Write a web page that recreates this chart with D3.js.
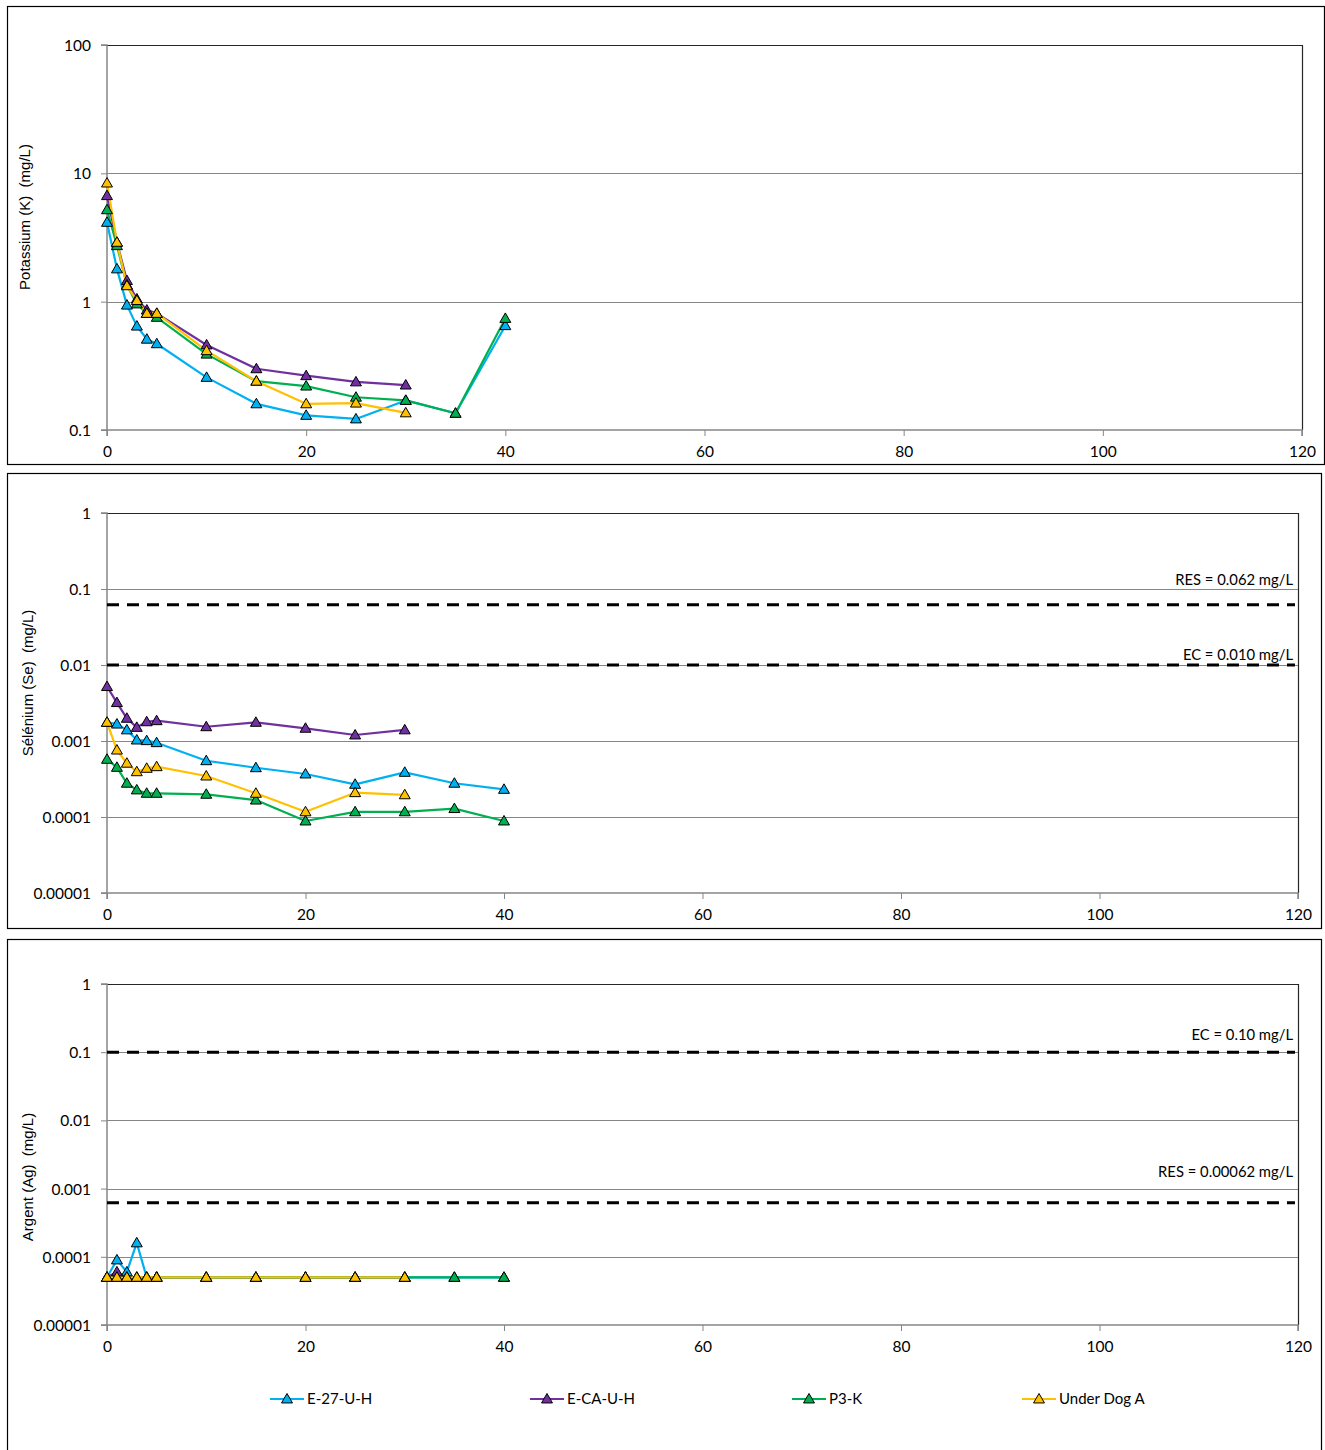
<!DOCTYPE html>
<html><head><meta charset="utf-8">
<script src="https://cdn.jsdelivr.net/npm/d3@7"></script>
<style>
body{margin:0;background:#fff;}
svg{display:block;}
.tick text{font-family:Lato, "Open Sans", sans-serif;font-size:15.5px;fill:#000;}
</style></head>
<body>
<svg id="chart" width="1325" height="1450"></svg>
<script>
// ---------- DATA ----------
const seriesNames = ["E-27-U-H", "E-CA-U-H", "P3-K", "Under Dog A"];
const seriesColors = ["#00B0F0", "#7030A0", "#00B050", "#FFC000"];
const days = [0, 1, 2, 3, 4, 5, 10, 15, 20, 25, 30, 35, 40];
const xTickValues = [0, 20, 40, 60, 80, 100, 120];
const xTickLabels = ["0", "20", "40", "60", "80", "100", "120"];

// Potassium (K) mg/L
const potassiumE27 = [4.15, 1.8, 0.94, 0.645, 0.51, 0.47, 0.257, 0.16, 0.13, 0.122, 0.17, 0.135, 0.65];
const potassiumECA = [6.7, 2.9, 1.46, 1.05, 0.86, 0.81, 0.46, 0.30, 0.265, 0.237, 0.224];
const potassiumP3K = [5.2, 2.73, 1.35, 0.96, 0.81, 0.755, 0.39, 0.24, 0.22, 0.18, 0.17, 0.135, 0.74];
const potassiumUDA = [8.4, 2.9, 1.33, 1.02, 0.81, 0.81, 0.415, 0.24, 0.16, 0.162, 0.136];
const potassiumTicks = [0.1, 1, 10, 100];
const potassiumTickLabels = ["0.1", "1", "10", "100"];

// Selenium (Se) mg/L
const seleniumE27 = [0.00176, 0.00167, 0.0014, 0.00103, 0.00101, 0.00095, 0.00055, 0.000445, 0.000368, 0.000269, 0.000387, 0.000278, 0.000231];
const seleniumECA = [0.0052, 0.0032, 0.00199, 0.00151, 0.00179, 0.00185, 0.00154, 0.00176, 0.00147, 0.0012, 0.0014];
const seleniumP3K = [0.000574, 0.00045, 0.000278, 0.000227, 0.000205, 0.000205, 0.000199, 0.000167, 0.0000886, 0.000117, 0.000117, 0.000129, 0.0000886];
const seleniumUDA = [0.00176, 0.00076, 0.00051, 0.000394, 0.000437, 0.000459, 0.000346, 0.000205, 0.000117, 0.000209, 0.000196];
const seleniumRefValues = [0.062, 0.010];
const seleniumRefLabels = ["RES = 0.062 mg/L", "EC = 0.010 mg/L"];
const logTicks5 = [0.00001, 0.0001, 0.001, 0.01, 0.1, 1];
const logTickLabels5 = ["0.00001", "0.0001", "0.001", "0.01", "0.1", "1"];

// Silver (Ag) mg/L
const silverE27 = [0.00005, 0.00009, 0.00006, 0.00016, 0.00005, 0.00005, 0.00005, 0.00005, 0.00005, 0.00005, 0.00005, 0.00005, 0.00005];
const silverECA = [0.00005, 0.00006, 0.00005, 0.00005, 0.00005, 0.00005, 0.00005, 0.00005, 0.00005, 0.00005, 0.00005];
const silverP3K = [0.00005, 0.00005, 0.00005, 0.00005, 0.00005, 0.00005, 0.00005, 0.00005, 0.00005, 0.00005, 0.00005, 0.00005, 0.00005];
const silverUDA = [0.00005, 0.00005, 0.00005, 0.00005, 0.00005, 0.00005, 0.00005, 0.00005, 0.00005, 0.00005, 0.00005];
const silverRefValues = [0.10, 0.00062];
const silverRefLabels = ["EC = 0.10 mg/L", "RES = 0.00062 mg/L"];

// ---------- DRAW ----------
const svg = d3.select("#chart");
const tri = d3.symbol().type(d3.symbolTriangle).size(52);

function drawPanel(p) {
  const g = svg.append("g");
  g.append("rect").attr("x", p.frame[0] + 0.5).attr("y", p.frame[1] + 0.5)
    .attr("width", p.frame[2] - p.frame[0]).attr("height", p.frame[3] - p.frame[1])
    .attr("fill", "#fff").attr("stroke", "#000").attr("stroke-width", 1.2);

  const x = d3.scaleLinear().domain([0, 120]).range([p.left, p.right]);
  const y = d3.scaleLog().domain([p.yTicks[0], p.yTicks[p.yTicks.length - 1]]).range([p.bottom, p.top]);

  g.append("g").selectAll("line").data(p.yTicks.slice(1, -1)).join("line")
    .attr("x1", p.left).attr("x2", p.right)
    .attr("y1", d => Math.round(y(d)) + 0.5).attr("y2", d => Math.round(y(d)) + 0.5)
    .attr("stroke", "#868686").attr("stroke-width", 1);
  g.append("path")
    .attr("d", `M${p.left},${p.top + 0.5}H${p.right + 0.5}V${p.bottom}`)
    .attr("fill", "none").attr("stroke", "#262626").attr("stroke-width", 1.2);

  const yAxis = d3.axisLeft(y).tickValues(p.yTicks).tickSize(6).tickPadding(10)
    .tickFormat((d, i) => p.yTickLabels[i]);
  const ya = g.append("g").attr("transform", `translate(${p.left},0)`).call(yAxis);
  const xAxis = d3.axisBottom(x).tickValues(xTickValues).tickSize(6).tickPadding(10)
    .tickFormat((d, i) => xTickLabels[i]);
  const xa = g.append("g").attr("transform", `translate(0,${p.bottom})`).call(xAxis);
  [ya, xa].forEach(a => {
    a.select(".domain").attr("stroke", "#868686").attr("stroke-width", 1.5);
    a.selectAll(".tick line").attr("stroke", "#868686");
  });
  ya.select(".domain").attr("d", `M${-6},${p.bottom}H0V${p.top}H-6`);
  xa.select(".domain").attr("d", `M${p.left},6V0H${p.right}V6`);
  ya.selectAll(".tick text").attr("dy", "0.35em");

  g.append("text")
    .attr("transform", `translate(${p.titleX},${p.titleY}) rotate(-90)`)
    .attr("text-anchor", "middle")
    .style("font-family", "'Liberation Sans', Arial, sans-serif").style("font-size", "15px")
    .style("white-space", "pre").attr("xml:space", "preserve")
    .text(p.title);

  (p.refValues || []).forEach((v, i) => {
    g.append("line").attr("x1", p.left).attr("x2", p.right - 3)
      .attr("y1", y(v)).attr("y2", y(v))
      .attr("stroke", "#000").attr("stroke-width", 3).attr("stroke-dasharray", "12,8");
    g.append("text").attr("x", p.right - 5).attr("y", y(v) - p.refOffsets[i])
      .attr("text-anchor", "end")
      .style("font-family", "Lato, 'Open Sans', sans-serif").style("font-size", "14.8px")
      .text(p.refLabels[i]);
  });

  const line = d3.line().x((d, i) => x(days[i])).y(d => y(d));
  p.series.forEach((vals, s) => {
    g.append("path").datum(vals).attr("d", line)
      .attr("fill", "none").attr("stroke", seriesColors[s]).attr("stroke-width", 2.2)
      .attr("stroke-linejoin", "round");
  });
  p.series.forEach((vals, s) => {
    g.append("g").selectAll("path").data(vals).join("path")
      .attr("d", tri)
      .attr("transform", (d, i) => `translate(${x(days[i])},${y(d) + 0.8})`)
      .attr("fill", seriesColors[s]).attr("stroke", "#000").attr("stroke-width", 1);
  });
}

drawPanel({
  frame: [7, 6, 1324, 464], left: 107, right: 1302, top: 45, bottom: 430,
  yTicks: potassiumTicks, yTickLabels: potassiumTickLabels,
  title: "Potassium (K)  (mg/L)", titleX: 30, titleY: 217,
  series: [potassiumE27, potassiumECA, potassiumP3K, potassiumUDA]
});
drawPanel({
  frame: [7, 473, 1321, 928], left: 107, right: 1298, top: 513, bottom: 893,
  yTicks: logTicks5, yTickLabels: logTickLabels5,
  title: "Sélénium (Se)  (mg/L)", titleX: 33, titleY: 683,
  refValues: seleniumRefValues, refLabels: seleniumRefLabels, refOffsets: [20, 5],
  series: [seleniumE27, seleniumECA, seleniumP3K, seleniumUDA]
});
drawPanel({
  frame: [7, 939, 1321, 1452], left: 107, right: 1298, top: 984, bottom: 1325,
  yTicks: logTicks5, yTickLabels: logTickLabels5,
  title: "Argent (Ag)  (mg/L)", titleX: 33, titleY: 1177,
  refValues: silverRefValues, refLabels: silverRefLabels, refOffsets: [12, 26],
  series: [silverE27, silverECA, silverP3K, silverUDA]
});

const legendX = [270, 530, 792, 1022];
const lg = svg.append("g").selectAll("g").data(seriesNames).join("g")
  .attr("transform", (d, i) => `translate(${legendX[i]},1399)`);
lg.append("line").attr("x1", 0).attr("x2", 34).attr("y1", 0).attr("y2", 0)
  .attr("stroke", (d, i) => seriesColors[i]).attr("stroke-width", 2.2);
lg.append("path").attr("d", tri).attr("transform", "translate(17,0.8)")
  .attr("fill", (d, i) => seriesColors[i]).attr("stroke", "#000");
lg.append("text").attr("x", 37).attr("y", 0).attr("dy", "0.35em")
  .style("font-family", "Lato, 'Open Sans', sans-serif").style("font-size", "15px")
  .text(d => d);
</script>
</body></html>
